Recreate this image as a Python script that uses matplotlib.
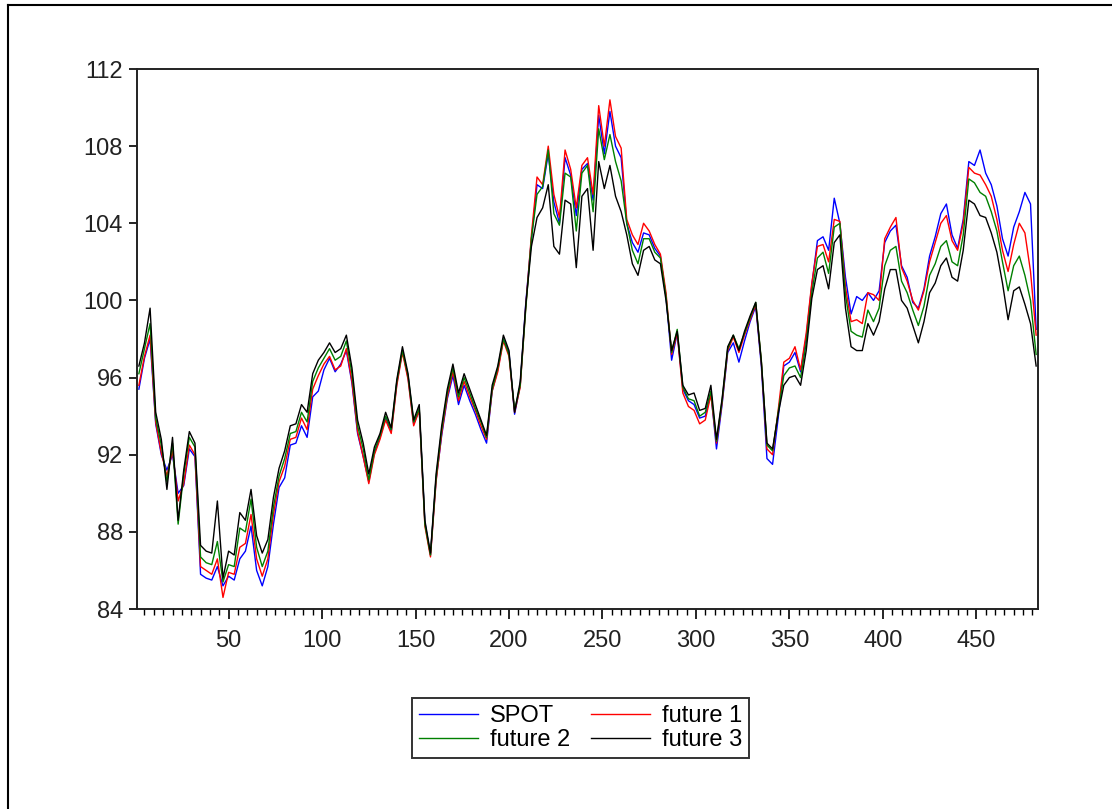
import numpy as np
import matplotlib
matplotlib.use("Agg")
import matplotlib.pyplot as plt
from matplotlib.lines import Line2D
from matplotlib.ticker import MultipleLocator

plt.rcParams['font.family'] = ['Liberation Sans', 'DejaVu Sans']

obs = np.arange(2, 484, 3)

future3 = [
    96.6, 97.8, 99.6, 94.2, 92.8, 90.2, 92.9, 88.6, 91.2, 93.2, 92.6,
    87.3, 87.0, 86.9, 89.6, 85.6, 87.0, 86.8, 89.0, 88.6, 90.2, 87.8, 86.9, 87.6,
    89.8, 91.3, 92.2, 93.5, 93.6, 94.6, 94.2, 96.2, 96.9,
    97.3, 97.8, 97.3, 97.5, 98.2, 96.5, 93.8, 92.6,
    91.0, 92.4, 93.1, 94.2, 93.4, 95.9, 97.6, 96.2, 93.8, 94.6,
    88.6, 86.9, 91.0, 93.5, 95.4, 96.7, 95.2, 96.2, 95.4, 94.6,
    93.8, 93.0, 95.6, 96.6, 98.2, 97.4, 94.2, 95.8, 99.8,
    102.8, 104.3, 104.8, 106.0, 102.8, 102.4, 105.2, 105.0, 101.7, 105.4,
    105.8, 102.6, 107.2, 105.8, 107.0, 105.4, 104.6, 103.4,
    101.9, 101.3, 102.6, 102.8, 102.1, 101.9, 100.0,
    97.4, 98.4, 95.6, 95.1, 95.2, 94.3, 94.4, 95.6, 92.8, 94.9,
    97.6, 98.2, 97.4, 98.4, 99.2, 99.9, 96.8, 92.6, 92.3, 94.1,
    95.6, 96.0, 96.1, 95.6, 97.4, 100.1, 101.6,
    101.8, 100.6, 103.0, 103.4, 99.6, 97.6, 97.4, 97.4, 98.8, 98.2, 98.9,
    100.6, 101.6, 101.6, 100.0, 99.6, 98.7, 97.8, 98.9, 100.4, 100.9,
    101.8, 102.2, 101.2, 101.0, 102.6,
    105.2, 105.0, 104.4, 104.3, 103.5, 102.5, 100.9,
    99.0, 100.5, 100.7, 99.8, 98.8, 96.6,
]

future2 = [
    96.2, 97.5, 98.8, 93.9, 92.5, 90.6, 92.6, 88.4, 91.0, 92.9, 92.4,
    86.7, 86.4, 86.3, 87.5, 85.4, 86.3, 86.2, 88.2, 88.0, 89.7, 87.2, 86.2, 87.0,
    89.3, 90.9, 91.8, 93.1, 93.2, 94.2, 93.7, 95.8, 96.5,
    97.0, 97.5, 96.9, 97.1, 97.9, 96.2, 93.5, 92.3,
    90.7, 92.2, 93.0, 94.0, 93.3, 95.8, 97.4, 96.1, 93.7, 94.4,
    88.4, 86.8, 90.8, 93.3, 95.2, 96.5, 95.0, 96.0, 95.2, 94.4,
    93.7, 92.9, 95.4, 96.5, 98.0, 97.2, 94.3, 95.6, 99.6,
    103.2, 105.5, 105.9, 107.8, 104.5, 103.9, 106.6, 106.4, 103.6, 106.6,
    107.0, 104.6, 108.9, 107.3, 108.6, 107.2, 106.2, 104.0,
    102.6, 101.9, 103.2, 103.2, 102.5, 102.2, 100.2,
    97.3, 98.5, 95.5, 94.9, 94.8, 94.0, 94.2, 95.3, 92.7, 94.8,
    97.5, 98.2, 97.5, 98.3, 99.1, 99.9, 96.9, 92.5, 92.2, 94.2,
    96.1, 96.5, 96.6, 96.0, 97.8, 100.4, 102.2,
    102.5, 101.4, 103.8, 104.0, 100.3, 98.4, 98.2, 98.1, 99.5, 98.9, 99.6,
    101.8, 102.6, 102.8, 101.0, 100.4, 99.5, 98.7, 99.7, 101.3, 101.9,
    102.8, 103.1, 102.0, 101.8, 103.4,
    106.3, 106.1, 105.6, 105.4, 104.6, 103.6, 102.0,
    100.5, 101.8, 102.3, 101.3, 100.0, 97.2,
]

future1 = [
    95.6, 97.1, 98.2, 93.7, 92.1, 90.9, 92.2, 89.6, 90.5, 92.5, 92.0,
    86.2, 86.0, 85.8, 86.6, 84.6, 85.9, 85.8, 87.2, 87.4, 88.9, 86.6, 85.7, 86.6,
    88.9, 90.6, 91.4, 92.8, 92.9, 93.9, 93.3, 95.4, 96.1,
    96.7, 97.1, 96.4, 96.6, 97.5, 95.8, 93.2, 91.9,
    90.5, 92.0, 92.8, 93.8, 93.1, 95.6, 97.3, 95.9, 93.5, 94.3,
    88.3, 86.7, 90.6, 93.1, 95.0, 96.3, 94.8, 95.8, 95.0, 94.3,
    93.5, 92.8, 95.3, 96.3, 97.9, 97.1, 94.2, 95.5, 99.7,
    103.4, 106.4, 106.0, 108.0, 105.5, 104.3, 107.8, 106.8, 104.8, 107.0,
    107.4, 105.5, 110.1, 108.0, 110.4, 108.5, 107.9, 104.2,
    103.4, 102.9, 104.0, 103.6, 102.9, 102.4, 100.4,
    97.2, 98.3, 95.2, 94.5, 94.3, 93.6, 93.8, 95.1, 92.6, 94.7,
    97.4, 98.1, 97.3, 98.2, 99.0, 99.8, 96.8, 92.3, 92.0, 94.3,
    96.8, 97.0, 97.6, 96.4, 98.3, 100.9, 102.8,
    102.9, 102.0, 104.2, 104.1, 100.7, 98.9, 99.0, 98.8, 100.4, 100.3, 100.0,
    103.2, 103.8, 104.3, 101.7, 101.0, 100.0, 99.5, 100.5, 102.0, 103.0,
    104.0, 104.4, 103.1, 102.6, 104.0,
    106.9, 106.6, 106.5, 106.0, 105.4, 104.2, 102.6,
    101.5, 102.9, 104.0, 103.5, 101.5, 98.2,
]

spot = [
    95.4, 97.0, 98.0, 93.6, 92.0, 91.2, 92.0, 90.0, 90.4, 92.3, 91.9,
    85.8, 85.6, 85.5, 86.2, 85.2, 85.7, 85.5, 86.6, 87.0, 88.3, 86.0, 85.2, 86.2,
    88.4, 90.3, 90.8, 92.5, 92.6, 93.5, 92.9, 95.0, 95.3,
    96.4, 97.0, 96.3, 96.7, 97.4, 95.7, 93.1, 91.9,
    90.6, 92.1, 92.9, 93.9, 93.2, 95.7, 97.4, 96.0, 93.6, 94.3,
    88.5, 86.8, 90.7, 93.0, 94.9, 96.1, 94.6, 95.6, 94.8, 94.1,
    93.3, 92.6, 95.3, 96.4, 98.0, 97.3, 94.1, 95.6, 99.9,
    103.2, 106.0, 105.8, 107.6, 105.1, 104.0, 107.4, 106.5, 104.4, 106.8,
    107.1, 105.2, 109.6, 107.6, 109.8, 108.0, 107.4, 104.0,
    103.0, 102.5, 103.5, 103.4, 102.7, 102.3, 100.2,
    96.9, 98.3, 95.4, 94.8, 94.6, 93.9, 94.0, 95.2, 92.3, 94.6,
    97.3, 97.8, 96.8, 97.9, 98.9, 99.7, 96.6, 91.8, 91.5, 93.9,
    96.6, 96.8, 97.3, 96.3, 98.1, 100.8, 103.1,
    103.3, 102.6, 105.3, 104.0, 101.2, 99.3, 100.2, 100.0, 100.4, 100.0, 100.5,
    103.0, 103.6, 103.9, 101.8, 101.2, 99.9, 99.6, 100.6, 102.3, 103.3,
    104.5, 105.0, 103.4, 102.7, 104.2,
    107.2, 107.0, 107.8, 106.6, 106.0, 104.9, 103.2,
    102.3, 103.8, 104.6, 105.6, 105.0, 98.5,
]

series_names = ["SPOT", "future 1", "future 2", "future 3"]
series_colors = ["#0000ff", "#ff0000", "#008000", "#000000"]
series_values = [spot, future1, future2, future3]

y_ticks = [84, 88, 92, 96, 100, 104, 108, 112]
x_ticks = [50, 100, 150, 200, 250, 300, 350, 400, 450]

W, H = 1112, 809
fig = plt.figure(figsize=(W / 100, H / 100), dpi=100)
ax = fig.add_axes([137 / W, 1 - 609 / H, (1038 - 137) / W, (609 - 69) / H])

for name, col, vals in zip(series_names, series_colors, series_values):
    ax.plot(obs, vals, color=col, lw=1.0, label=name)

ax.set_xlim(1, 483)
ax.set_ylim(84, 112)
ax.set_yticks(y_ticks)
ax.set_xticks(x_ticks)
ax.xaxis.set_minor_locator(MultipleLocator(5))
ax.tick_params(axis='both', which='major', labelsize=17, direction='out',
               length=6, width=1.2, colors='black', labelcolor='#222222')
ax.tick_params(axis='x', which='minor', direction='out', length=4, width=1.0)
ax.tick_params(axis='x', which='major', length=7, pad=8)
ax.tick_params(axis='y', which='major', pad=4)
for sp in ax.spines.values():
    sp.set_linewidth(1.4)
    sp.set_color('#222222')

# legend in requested order: SPOT, future 1 / future 2, future 3
handles = [Line2D([], [], color=c, lw=1.0) for c in series_colors]
order = [0, 2, 1, 3]
leg = fig.legend([handles[i] for i in order], [series_names[i] for i in order],
                 ncol=2, loc='upper center', bbox_to_anchor=(0.522, 1 - 686 / H),
                 fontsize=17, frameon=True, fancybox=False, handlelength=2.5,
                 handletextpad=0.5, columnspacing=0.9, labelspacing=0.1,
                 borderpad=0.3)
leg.get_frame().set_edgecolor('black')
leg.get_frame().set_linewidth(1.4)

# outer frame lines (left and top)
fig.add_artist(Line2D([8 / W, 8 / W], [0, 1 - 5 / H], transform=fig.transFigure,
                      color='black', lw=1.5))
fig.add_artist(Line2D([8 / W, 1], [1 - 5 / H, 1 - 5 / H], transform=fig.transFigure,
                      color='black', lw=1.5))

fig.savefig("out.png", dpi=100)
